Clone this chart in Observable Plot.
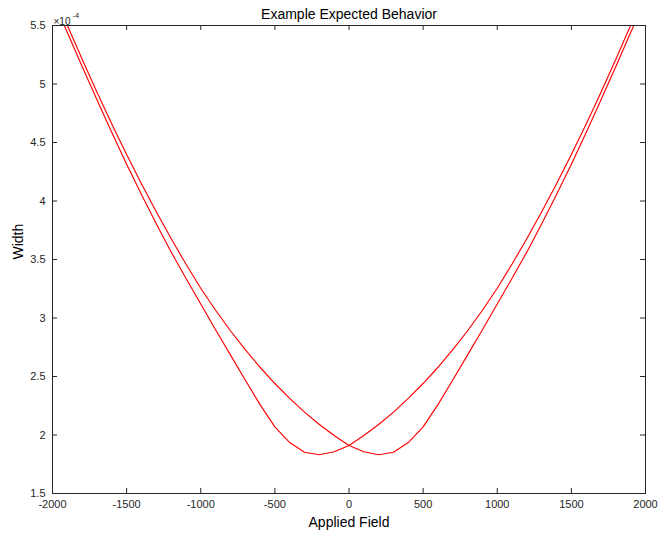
<!DOCTYPE html>
<html>
<head>
<meta charset="utf-8">
<script src="https://cdn.jsdelivr.net/npm/d3@7"></script>
<script src="https://cdn.jsdelivr.net/npm/@observablehq/plot@0.6"></script>
<style>
  html, body { margin: 0; padding: 0; background: #fff; }
  #chart { width: 659px; height: 536px; }
</style>
</head>
<body>
<div id="chart"></div>
<script>
// ---- data (width in units of 1e-4) ----
const appliedField = [-2000,-1900,-1800,-1700,-1600,-1500,-1400,-1300,-1200,-1100,-1000,
  -900,-800,-700,-600,-500,-400,-300,-200,-100,0,100,200,300,400,500,600,700,800,900,
  1000,1100,1200,1300,1400,1500,1600,1700,1800,1900,2000];
// sweep with minimum near -200
const widthSweepA = [5.73,5.44,5.15,4.865,4.585,4.315,4.055,3.805,3.565,3.34,3.12,
  2.90,2.685,2.47,2.26,2.07,1.935,1.853,1.831,1.857,1.91,1.995,2.09,2.196,2.313,2.44,2.579,2.729,2.891,3.066,
  3.254,3.461,3.679,3.908,4.148,4.398,4.658,4.93,5.212,5.502,5.798];
// sweep with minimum near +200
const widthSweepB = [5.798,5.502,5.212,4.93,4.658,4.398,4.148,3.908,3.679,3.461,3.254,
  3.066,2.891,2.729,2.579,2.44,2.313,2.196,2.09,1.995,1.91,1.857,1.831,1.853,1.935,2.07,2.26,2.47,2.685,2.90,
  3.12,3.34,3.565,3.805,4.055,4.315,4.585,4.865,5.15,5.44,5.73];
const xTicks = [-2000,-1500,-1000,-500,0,500,1000,1500,2000];
const yTicks = [1.5,2,2.5,3,3.5,4,4.5,5,5.5];
const titleText = "Example Expected Behavior";
const xLabel = "Applied Field";
const yLabel = "Width";

// ---- layout ----
const W = 659, H = 536;
const mL = 52, mR = 14, mT = 25, mB = 43;
const innerW = W - mL - mR, innerH = H - mT - mB;
const tickLen = 5;
const axisColor = "#262626";

const rowsA = appliedField.map((x, i) => ({x, y: widthSweepA[i]}));
const rowsB = appliedField.map((x, i) => ({x, y: widthSweepB[i]}));

const chart = Plot.plot({
  width: W, height: H,
  marginLeft: mL, marginRight: mR, marginTop: mT, marginBottom: mB,
  style: {fontFamily: "'Liberation Sans', Arial, Helvetica, sans-serif", fontSize: "11px", color: axisColor, background: "#fff", overflow: "visible"},
  x: {domain: [-2000, 2000], ticks: xTicks, tickFormat: d => String(d)},
  y: {domain: [1.5, 5.5], ticks: yTicks, tickFormat: d => String(d)},
  marks: [
    Plot.line(rowsA, {x: "x", y: "y", stroke: "#ff0000", strokeWidth: 1.15, clip: true}),
    Plot.line(rowsB, {x: "x", y: "y", stroke: "#ff0000", strokeWidth: 1.15, clip: true}),
    Plot.frame({stroke: axisColor, strokeWidth: 1}),
    // inward tick marks on all four sides
    Plot.ruleX(xTicks, {x: d => d, insetTop: innerH - tickLen, stroke: axisColor}),
    Plot.ruleX(xTicks, {x: d => d, insetBottom: innerH - tickLen, stroke: axisColor}),
    Plot.ruleY(yTicks, {y: d => d, insetRight: innerW - tickLen, stroke: axisColor}),
    Plot.ruleY(yTicks, {y: d => d, insetLeft: innerW - tickLen, stroke: axisColor}),
    Plot.axisX({ticks: xTicks, tickFormat: d => String(d), tickSize: 0, tickPadding: 7, label: null, fontSize: 11}),
    Plot.axisY({ticks: yTicks, tickFormat: d => String(d), tickSize: 0, tickPadding: 7, label: null, fontSize: 11}),
    Plot.text([titleText], {frameAnchor: "top", dy: -16, fontSize: 14, fill: "#000"}),
    Plot.text([xLabel], {frameAnchor: "bottom", dy: 33, fontSize: 14, fill: "#000"}),
    Plot.text([yLabel], {frameAnchor: "left", dx: -34, rotate: -90, fontSize: 14, fill: "#000"}),
    Plot.text(["×10"], {frameAnchor: "top-left", textAnchor: "start", dx: 1, dy: -8, fontSize: 10, fill: axisColor}),
    Plot.text(["-4"], {frameAnchor: "top-left", textAnchor: "start", dx: 20, dy: -13, fontSize: 7.5, fill: axisColor})
  ]
});
document.getElementById("chart").appendChild(chart);
</script>
</body>
</html>
